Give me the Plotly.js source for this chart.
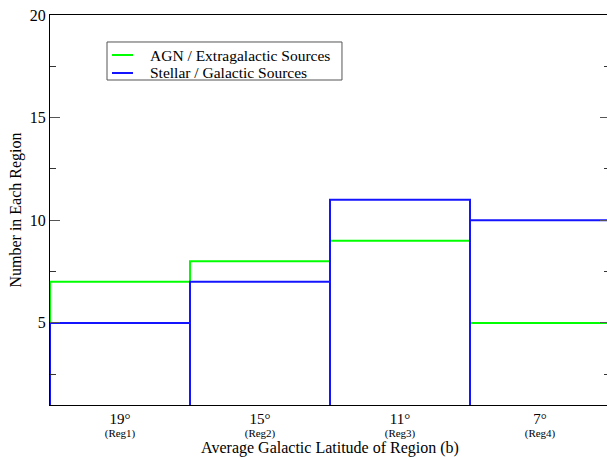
<!DOCTYPE html>
<html>
<head>
<meta charset="utf-8">
<script src="https://cdn.plot.ly/plotly-3.0.1.min.js"></script>
<style>html,body{margin:0;padding:0;overflow:hidden;background:#fff;}</style>
</head>
<body>
<div id="chart"></div>
<script>
var latitudes = ["19°", "15°", "11°", "7°"];
var regions = ["(Reg1)", "(Reg2)", "(Reg3)", "(Reg4)"];
var agnCounts = [7, 8, 9, 5];
var stellarCounts = [5, 7, 11, 10];
var seriesNames = ["AGN / Extragalactic Sources", "Stellar / Galactic Sources"];
var seriesColors = ["rgb(0,255,0)", "rgb(20,20,255)"];
var yMin = 1, yMax = 20;

// step outline for AGN (continuous steps)
var gx = [0], gy = [yMin];
agnCounts.forEach(function (v, i) { gx.push(i, i + 1); gy.push(v, v); });
gx.push(agnCounts.length); gy.push(yMin);

// bar outlines for stellar (each bin drops to baseline)
var bx = [], by = [];
stellarCounts.forEach(function (v, i) {
  bx.push(i, i, i + 1, i + 1); by.push(yMin, v, v, yMin);
});

var tickText = latitudes.map(function (t, i) {
  return "<span style='font-size:15px'>" + t + "</span><br><span style='font-size:11px'>" + regions[i] + "</span>";
});
var tickVals = latitudes.map(function (t, i) { return i + 0.5; });

var serif = "Liberation Serif";
var traces = [
  {x: gx, y: gy, mode: "lines", name: seriesNames[0],
   line: {color: seriesColors[0], width: 2}, cliponaxis: false},
  {x: bx, y: by, mode: "lines", name: seriesNames[1],
   line: {color: seriesColors[1], width: 2}, cliponaxis: false}
];

// manual legend (paper coordinates of the plot area)
var legX0 = 0.1018, legX1 = 0.5214, legY0 = 0.8333, legY1 = 0.9308;
var legRows = [0.8974, 0.8513];
var shapes = [{type: "rect", xref: "paper", yref: "paper", x0: legX0, x1: legX1, y0: legY0, y1: legY1,
               line: {color: "#555", width: 1}, fillcolor: "#fff", layer: "above"}];
var annotations = [];
seriesNames.forEach(function (n, i) {
  shapes.push({type: "line", xref: "paper", yref: "paper", x0: 0.1107, x1: 0.1482,
               y0: legRows[i], y1: legRows[i], line: {color: seriesColors[i], width: 2}, layer: "above"});
  annotations.push({xref: "paper", yref: "paper", x: 0.175, y: legRows[i], xanchor: "left", yanchor: "middle",
                    text: n, showarrow: false, font: {family: serif, size: 15.5, color: "#000"}});
});

var layout = {
  width: 612, height: 457,
  margin: {l: 50, r: 2, t: 15, b: 52},
  paper_bgcolor: "#fff", plot_bgcolor: "#fff",
  font: {family: serif, color: "#000", size: 14},
  showlegend: false,
  shapes: shapes, annotations: annotations,
  xaxis: {range: [0, 4], showgrid: false, zeroline: false,
          showline: true, linecolor: "#000", linewidth: 1, mirror: true,
          tickmode: "array", tickvals: tickVals, ticktext: tickText,
          ticks: "", ticklabelstandoff: 6, tickfont: {family: serif, size: 10},
          title: {text: "Average Galactic Latitude of Region (b)", font: {family: serif, size: 16}, standoff: 3}},
  yaxis: {range: [yMin, yMax], showgrid: false, zeroline: false,
          showline: true, linecolor: "#000", linewidth: 1, mirror: "ticks",
          tickmode: "array", tickvals: [5, 10, 15, 20],
          ticks: "inside", ticklen: 10, tickcolor: "#555", tickwidth: 1,
          tickfont: {family: serif, size: 16},
          minor: {tickvals: [2.5, 7.5, 12.5, 17.5], ticks: "inside", ticklen: 6, tickcolor: "#333"},
          title: {text: "Number in Each Region", font: {family: serif, size: 16}, standoff: 4}}
};

Plotly.newPlot("chart", traces, layout, {displayModeBar: false, staticPlot: true});
</script>
</body>
</html>
